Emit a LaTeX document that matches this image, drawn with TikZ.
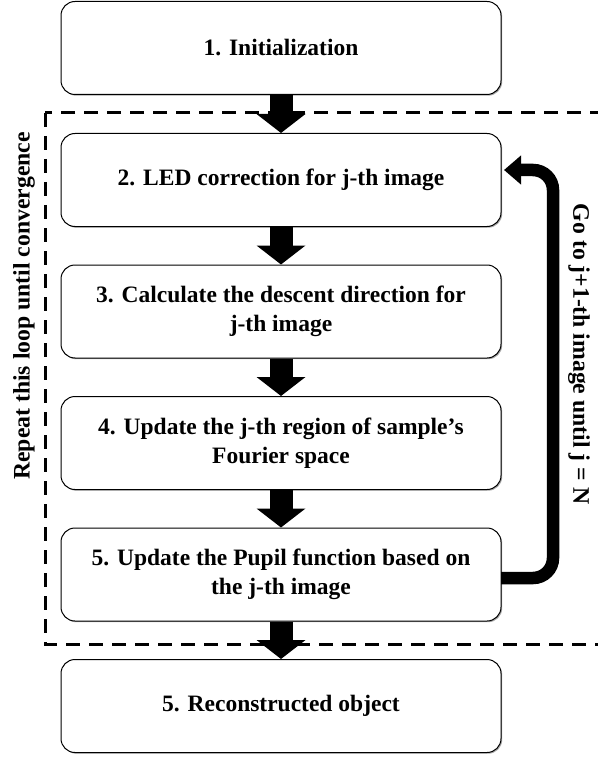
\documentclass[tikz,border=0pt]{standalone}
\usepackage{fontspec}
\setmainfont{Liberation Serif}
\usetikzlibrary{arrows.meta,shadows}
\begin{document}
\begin{tikzpicture}[x=1pt,y=-1pt,
  box/.style={draw=black, line width=1pt, rounded corners=14pt, fill=white,
    drop shadow={shadow xshift=1.2pt, shadow yshift=-1.2pt, opacity=0.35, fill=black},
    minimum width=440pt, minimum height=93pt, align=center,
    font=\fontsize{23.5}{29}\selectfont\bfseries},
  blockarrow/.style={line width=23pt, -{Triangle[width=48pt,length=19pt]}},
  looparrow/.style={line width=12.5pt, rounded corners=20pt, -{Triangle[width=28pt,length=17pt]}},
  side/.style={font=\fontsize{23.7}{28}\selectfont\bfseries}]
\useasboundingbox (0,0) rectangle (597,759);
\fill[white] (0,0) rectangle (597,759);
\draw[line width=3pt, dash pattern=on 14pt off 9pt] (45,113) rectangle (610,644);
\node[box] (b1) at (281,48) {1. Initialization};
\node[box] (b2) at (281,180) {2. LED correction for j-th image};
\node[box] (b3) at (281,311.5) {3. Calculate the descent direction for\\ j-th image};
\node[box] (b4) at (281,443) {4. Update the j-th region of sample’s\\ Fourier space};
\node[box] (b5) at (281,574.5) {5. Update the Pupil function based on\\ the j-th image};
\node[box] (b6) at (281,706) {5. Reconstructed object};
\draw[blockarrow] (b1) -- (b2);
\draw[blockarrow] (b2) -- (b3);
\draw[blockarrow] (b3) -- (b4);
\draw[blockarrow] (b4) -- (b5);
\draw[blockarrow] (b5) -- (b6);
\coordinate (c0) at (501,578);
\coordinate (c1) at (553,578);
\coordinate (c2) at (553,170);
\coordinate (c3) at (504,170);
\draw[looparrow] (c0) -- (c1) -- (c2) -- (c3);
\node[side, rotate=90] (lt) at (24,306) {Repeat this loop until convergence};
\node[side, rotate=-90] (rt) at (579,354) {Go to j+1-th image until j = N};
\end{tikzpicture}
\end{document}
